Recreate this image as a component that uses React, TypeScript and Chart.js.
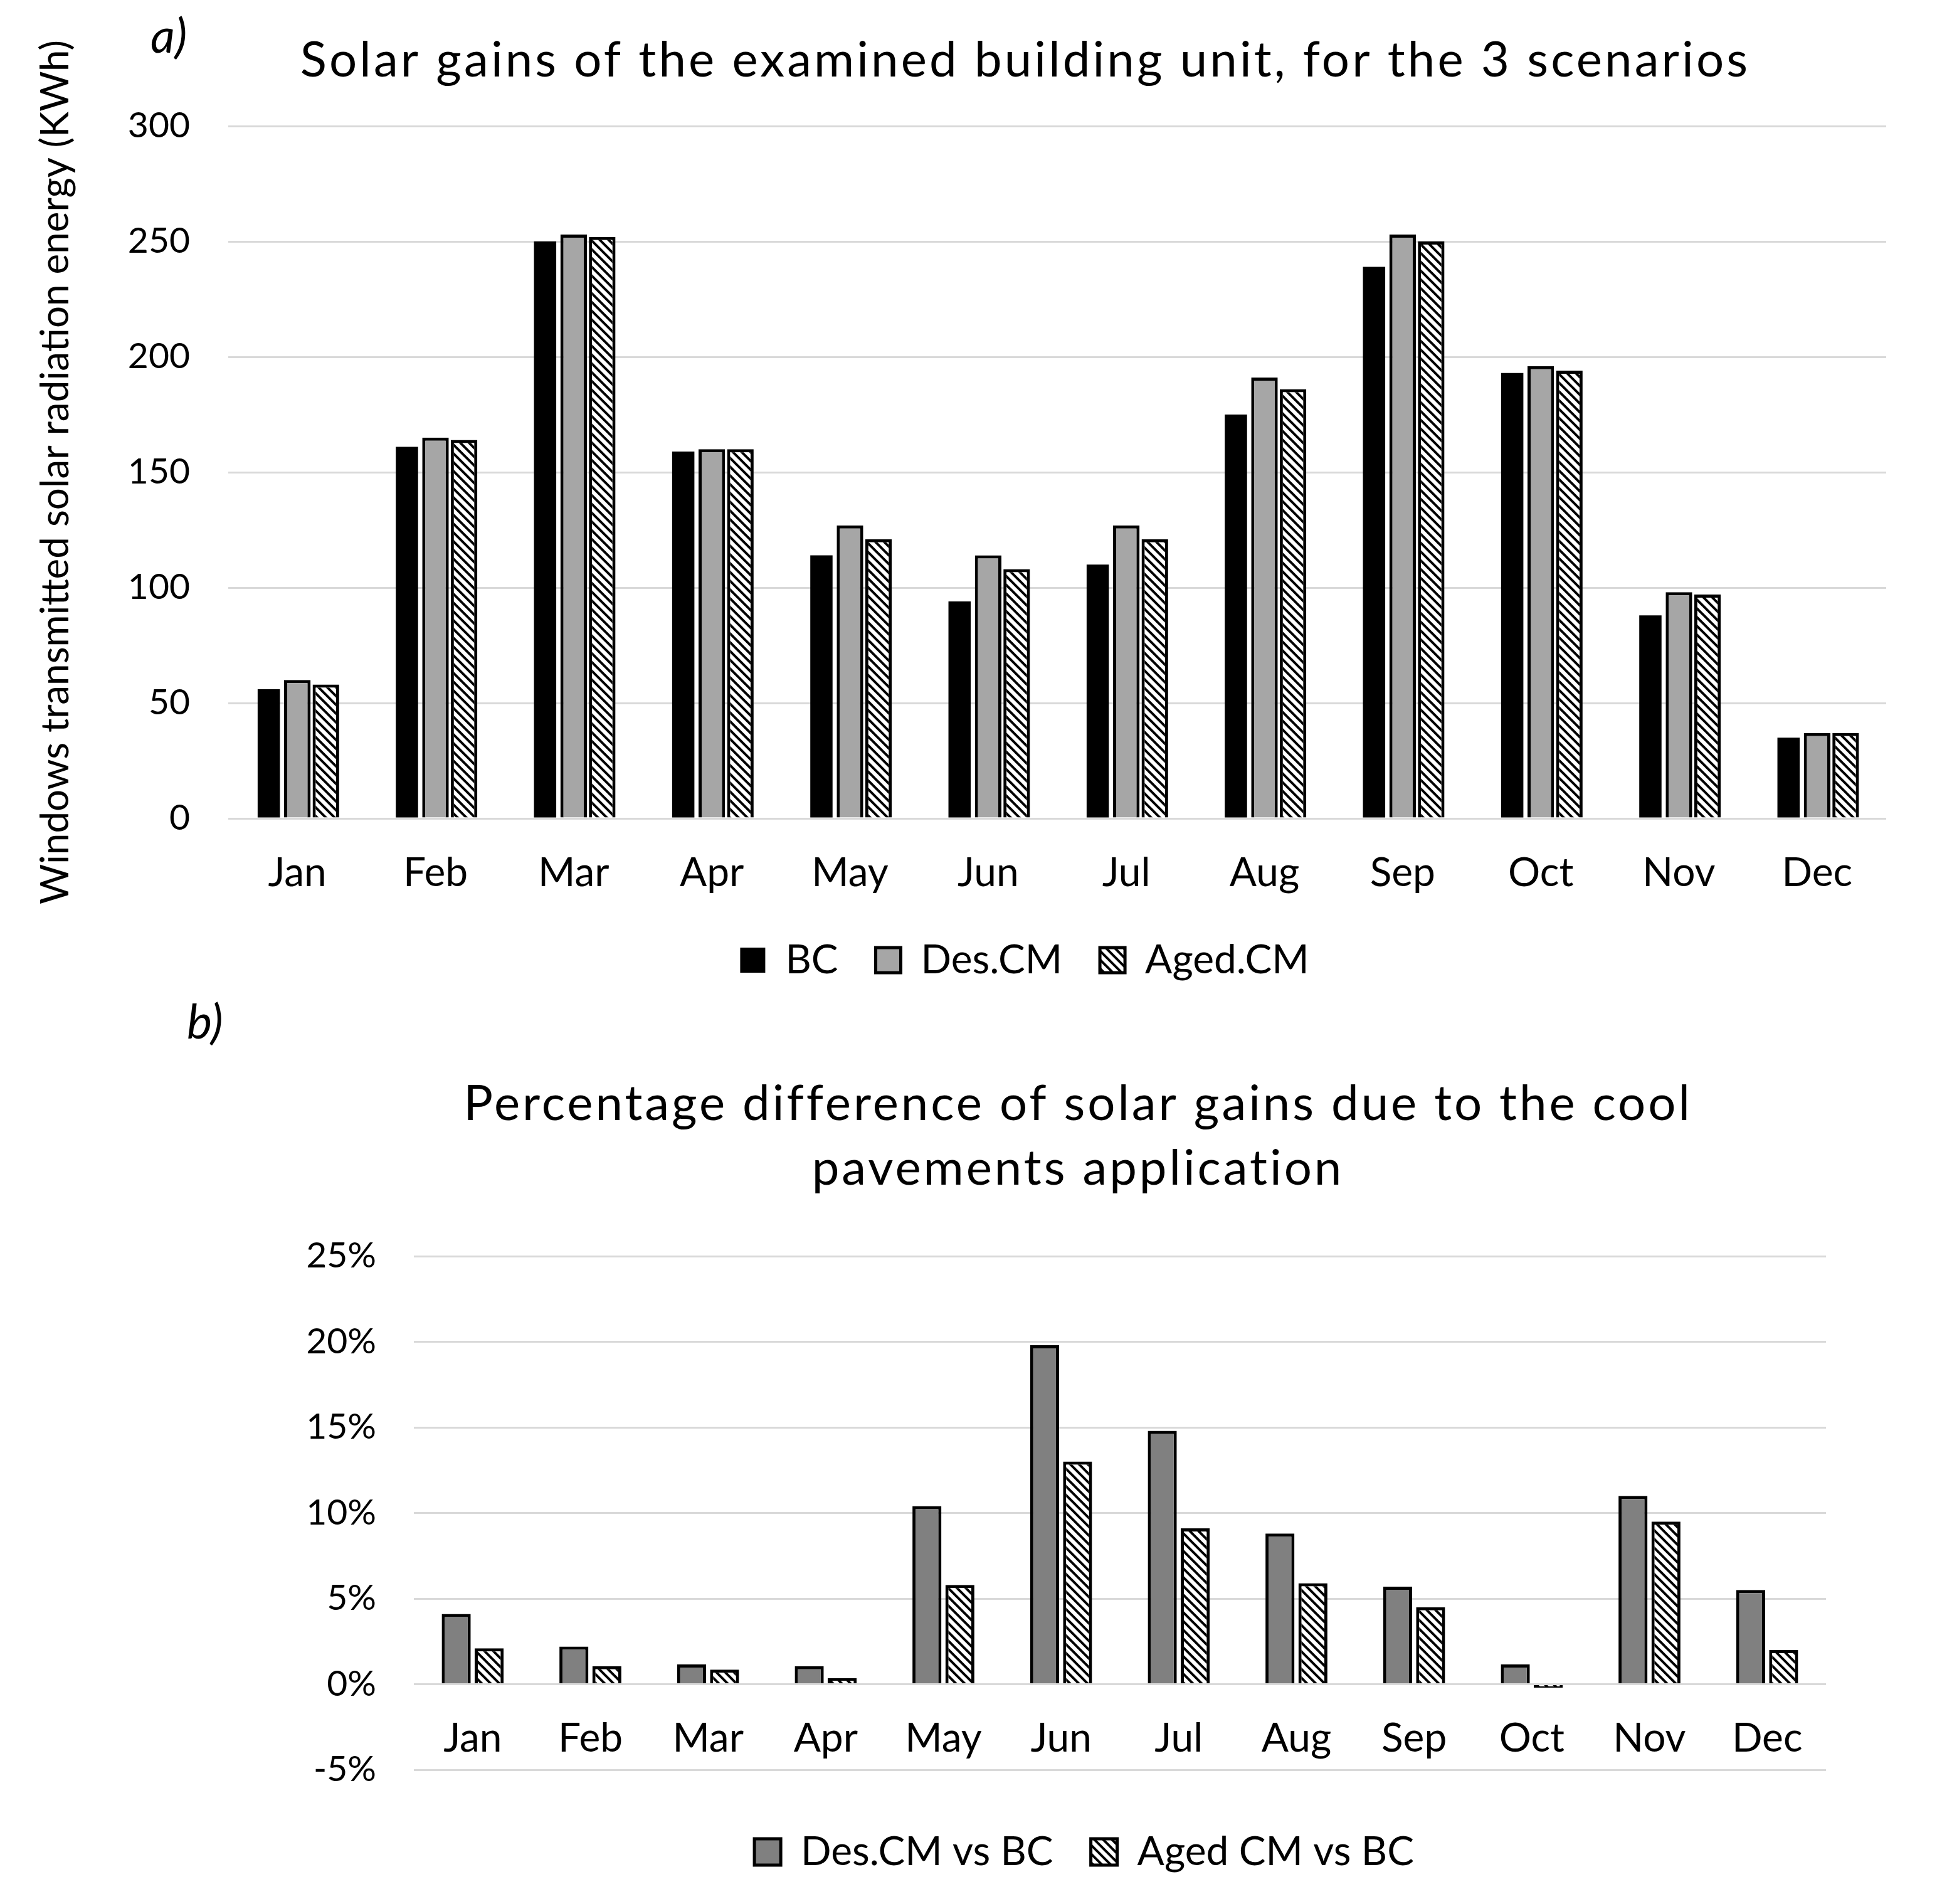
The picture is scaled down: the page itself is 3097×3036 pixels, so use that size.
import React, { useEffect, useRef } from 'react';
import { Chart, registerables } from 'chart.js';

Chart.register(...registerables);

// ---------- data ----------
const months = ['Jan', 'Feb', 'Mar', 'Apr', 'May', 'Jun', 'Jul', 'Aug', 'Sep', 'Oct', 'Nov', 'Dec'];
const seriesA = ['BC', 'Des.CM', 'Aged.CM'];
const bcGains = [56, 161, 250, 159, 114, 94, 110, 175, 239, 193, 88, 35];
const desGains = [60, 165, 253, 160, 127, 114, 127, 191, 253, 196, 98, 37];
const agedGains = [58, 164, 252, 160, 121, 108, 121, 186, 250, 194, 97, 37];
const seriesB = ['Des.CM vs BC', 'Aged CM vs BC'];
const desVsBc = [4.1, 2.2, 1.15, 1.05, 10.4, 19.8, 14.8, 8.8, 5.7, 1.15, 11.0, 5.5];
const agedVsBc = [2.1, 1.05, 0.85, 0.35, 5.8, 13.0, 9.1, 5.9, 4.5, -0.2, 9.5, 2.0];
const gainAxis = [0, 300, 50];
const pctAxis = [-5, 25, 5];
const titleA = 'Solar gains of the examined building unit, for the 3 scenarios';
const yTitleA = 'Windows transmitted solar radiation energy (KWh)';
const titleB1 = 'Percentage difference of solar gains due to the cool';
const titleB2 = 'pavements application';
const panelA = 'a)';
const panelB = 'b)';

// ---------- style ----------
const FAMILY = 'Lato';
const CSS_FAMILY = "Lato, 'Open Sans', sans-serif";
const TXT = '#000000';
const GRID = '#d9d9d9';
const TICK_FS = 57;
const CAT_FS = 64;
const LEG_FS = 64;

function makeHatch(): CanvasPattern | string {
  const s = 14;
  const c = document.createElement('canvas');
  c.width = s;
  c.height = s;
  const g = c.getContext('2d');
  if (!g) return '#ffffff';
  g.fillStyle = '#ffffff';
  g.fillRect(0, 0, s, s);
  g.strokeStyle = '#000000';
  g.lineWidth = 4;
  g.beginPath();
  for (let k = -1; k <= 1; k++) {
    g.moveTo(k * s - s, -s);
    g.lineTo(k * s + 2 * s, 2 * s);
  }
  g.stroke();
  const p = g.createPattern(c, 'repeat');
  return p || '#ffffff';
}

type TextItem = {
  text: string;
  x: number;
  y: number;
  size: number;
  italic?: boolean;
  align: CanvasTextAlign;
  fit?: number;
  spaced?: boolean;
};

const panelText = (items: TextItem[]) => ({
  id: 'panelText',
  afterDraw(chart: any) {
    const ctx: any = chart.ctx;
    ctx.save();
    let spacing = 0;
    for (const it of items) {
      ctx.font = `${it.italic ? 'italic ' : ''}${it.size}px ${CSS_FAMILY}`;
      ctx.fillStyle = TXT;
      ctx.textAlign = it.align;
      ctx.textBaseline = 'alphabetic';
      ctx.letterSpacing = '0px';
      if (it.fit) {
        const w = ctx.measureText(it.text).width;
        spacing = (it.fit - w) / Math.max(1, it.text.length - 1);
      }
      if (it.spaced) ctx.letterSpacing = `${spacing.toFixed(2)}px`;
      ctx.fillText(it.text, it.x, it.y);
    }
    ctx.restore();
  },
});

const legendShift = (cx: number) => ({
  id: 'legendShift',
  afterLayout(chart: any) {
    const lg = chart.legend;
    if (!lg) return;
    const dx = cx - (lg.left + lg.right) / 2;
    lg.left += dx;
    lg.right += dx;
  },
});

const tickFont = { family: FAMILY, size: TICK_FS };
const catFont = { family: FAMILY, size: CAT_FS };

export default function App() {
  const aRef = useRef<HTMLCanvasElement>(null);
  const bRef = useRef<HTMLCanvasElement>(null);

  useEffect(() => {
    if (!aRef.current || !bRef.current) return;
    const hatch = makeHatch();

    const chartA = new Chart(aRef.current, {
      type: 'bar',
      data: {
        labels: months,
        datasets: [
          { label: seriesA[0], data: bcGains, backgroundColor: '#000000', borderColor: '#000000', borderWidth: 0, barPercentage: 0.78, categoryPercentage: 0.62 },
          { label: seriesA[1], data: desGains, backgroundColor: '#a6a6a6', borderColor: '#000000', borderWidth: 5, barPercentage: 0.93, categoryPercentage: 0.62 },
          { label: seriesA[2], data: agedGains, backgroundColor: hatch as any, borderColor: '#000000', borderWidth: 5, barPercentage: 0.93, categoryPercentage: 0.62 },
        ],
      },
      options: {
        responsive: false,
        animation: false,
        devicePixelRatio: 1,
        layout: { padding: { top: 201, left: 20, right: 89, bottom: 7 } },
        plugins: {
          legend: {
            position: 'bottom',
            labels: { font: { family: FAMILY, size: LEG_FS }, color: TXT, boxWidth: 40, boxHeight: 40, padding: 60 },
          },
          tooltip: { enabled: false },
          title: { display: false },
        },
        scales: {
          x: {
            grid: { display: false, drawTicks: false },
            border: { display: false },
            ticks: { font: catFont, color: TXT, padding: 49, maxRotation: 0, autoSkip: false },
            afterFit: (s: any) => { s.height = 134; },
          },
          y: {
            min: gainAxis[0],
            max: gainAxis[1],
            ticks: { stepSize: gainAxis[2], font: tickFont, color: TXT, padding: 61 },
            grid: { color: GRID, lineWidth: 3, drawTicks: false },
            border: { display: false },
            title: { display: true, text: yTitleA, font: { family: FAMILY, size: 62 }, color: TXT, padding: { top: 32, bottom: 0 } },
            afterFit: (s: any) => { s.width = 344; },
          },
        },
      },
      plugins: [
        legendShift(1634),
        panelText([
          { text: panelA, x: 240, y: 84, size: 76, italic: true, align: 'left' },
          { text: titleA, x: 1635, y: 122, size: 78, align: 'center', fit: 2308, spaced: true },
        ]),
      ],
    } as any);

    const chartB = new Chart(bRef.current, {
      type: 'bar',
      data: {
        labels: months,
        datasets: [
          { label: seriesB[0], data: desVsBc, backgroundColor: '#808080', borderColor: '#000000', borderWidth: 5, barPercentage: 0.88, categoryPercentage: 0.56 },
          { label: seriesB[1], data: agedVsBc, backgroundColor: hatch as any, borderColor: '#000000', borderWidth: 5, barPercentage: 0.88, categoryPercentage: 0.56 },
        ],
      },
      options: {
        responsive: false,
        animation: false,
        devicePixelRatio: 1,
        layout: { padding: { top: 423, left: 0, right: 185, bottom: 41 } },
        plugins: {
          legend: {
            position: 'bottom',
            labels: { font: { family: FAMILY, size: LEG_FS }, color: TXT, boxWidth: 42, boxHeight: 42, padding: 60 },
          },
          tooltip: { enabled: false },
          title: { display: false },
        },
        scales: {
          x: {
            ticks: { display: false },
            grid: { display: false, drawTicks: false },
            border: { display: false },
            afterFit: (s: any) => { s.height = 39; },
          },
          x2: {
            type: 'category',
            labels: months,
            position: { y: 0 },
            offset: true,
            grid: { display: false, drawTicks: false },
            border: { display: false },
            ticks: { font: catFont, color: TXT, padding: 48, maxRotation: 0, autoSkip: false },
          },
          y: {
            min: pctAxis[0],
            max: pctAxis[1],
            ticks: { stepSize: pctAxis[2], font: tickFont, color: TXT, padding: 60, callback: (v: any) => `${v}%` },
            grid: { color: GRID, lineWidth: 3, drawTicks: false },
            border: { display: false },
            afterFit: (s: any) => { s.width = 660; },
          },
        },
      },
      plugins: [
        legendShift(1729),
        panelText([
          { text: panelB, x: 298, y: 76, size: 76, italic: true, align: 'left' },
          { text: titleB1, x: 1719, y: 206, size: 78, align: 'center', fit: 1953, spaced: true },
          { text: titleB2, x: 1719, y: 309, size: 78, align: 'center', spaced: true },
        ]),
      ],
    } as any);

    return () => {
      chartA.destroy();
      chartB.destroy();
    };
  }, []);

  return (
    <div style={{ position: 'absolute', left: 0, top: 0, width: 3097, height: 3036, background: '#ffffff' }}>
      <canvas ref={aRef} width={3097} height={1580} style={{ position: 'absolute', left: 0, top: 0 }} />
      <canvas ref={bRef} width={3097} height={1456} style={{ position: 'absolute', left: 0, top: 1580 }} />
    </div>
  );
}
